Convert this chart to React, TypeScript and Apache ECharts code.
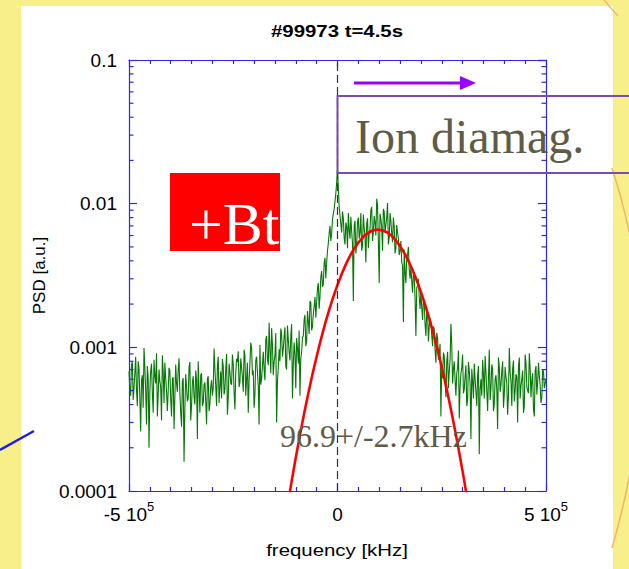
import React, { useEffect, useRef } from 'react';
import * as echarts from 'echarts';

const TITLE = '#99973 t=4.5s';
const X_NAME = 'frequency [kHz]';
const Y_NAME = 'PSD [a.u.]';
const X_MIN = -500000;
const X_MAX = 500000;
const X_INTERVAL = 500000;
const X_MINOR_SPLIT = 10;
const X_TICK_LABELS = ['-5 10^5', '0', '5 10^5'];
const Y_MIN = 1e-4;
const Y_MAX = 0.1;
const Y_TICK_LABELS = ['0.0001', '0.001', '0.01', '0.1'];
const Y_MINOR_TICKS = [
  2e-4, 3e-4, 4e-4, 5e-4, 6e-4, 7e-4, 8e-4, 9e-4,
  2e-3, 3e-3, 4e-3, 5e-3, 6e-3, 7e-3, 8e-3, 9e-3,
  2e-2, 3e-2, 4e-2, 5e-2, 6e-2, 7e-2, 8e-2, 9e-2,
];

// measured spectrum, sampled every 2 kHz from -500 kHz; stored as two interleaved
// sample sets: "even" samples at -500, -496, ... and "odd" samples at -498, -494, ...
const SPEC_F0_HZ = -500000;
const SPEC_DF_HZ = 2000;
// PSD, in units of 1e-4 a.u.
const psdEvenE4 = [
  6.8, 4.6, 7.9, 5.2, 8.6, 3.9, 7.1, 2.6, 6.4, 9.9, 5.0, 7.4, 2.0, 6.9, 4.8, 8.2, 5.6, 3.3, 7.0, 5.3, 8.8, 4.1, 6.2, 3.6,
  7.2, 4.4, 6.0, 2.7, 7.6, 4.9, 8.4, 3.5, 5.8, 1.6, 6.5, 4.2, 7.3, 3.1, 5.7, 4.5, 6.9, 2.3, 5.1, 6.4, 3.9, 5.5,
  4.2, 6.0, 3.6, 5.3, 4.6,
  9.8, 5.4, 7.5, 4.1, 6.8, 8.3, 4.7, 7.0, 3.4, 7.7, 5.6, 8.9, 4.9, 6.6, 7.9,
  5.3, 8.4, 6.2, 9.6, 4.6, 7.8, 5.9, 10.8, 6.4, 3.8, 8.1, 6.7, 2.9, 5.5, 7.4,
  7.0, 11.3, 8.2, 14.8, 6.6, 10.4, 7.9, 12.6, 5.8, 9.7,
  13.5, 8.6, 11.9, 7.4, 14.2, 9.3, 12.0, 4.4, 10.8, 5.2, 9.9, 13.1, 8.4, 11.7,
  15.6, 10.2, 17.9, 12.4, 20.5, 14.0, 19.3, 16.1,
  25.8, 18.6, 31.0, 26.4, 38.5, 30.2,
  47, 62.5, 55, 78, 92, 118, 175,
  96, 72, 88, 58, 74, 49, 66, 81, 53, 70, 45,
  75, 57, 86, 51, 68, 39, 79, 62, 90, 55,
  82, 60, 97, 28, 78, 47, 88, 71, 101, 58,
  76, 54, 69, 49, 63, 44,
  55, 37, 48, 28, 44, 35,
  36, 24, 31.5, 12, 27, 22.5,
  24, 15.5, 20.5, 12, 17.5, 14,
  15, 10.2, 13.4, 7.8, 11.6, 9.0,
  3.3, 6.1, 8.7, 4.5, 9.3, 6.8, 14.6, 5.6,
  8.0, 4.6, 7.2, 3.2, 6.6, 8.9, 5.1, 7.5, 4.3, 6.9, 2.3, 5.8,
  7.7, 4.9, 6.3, 1.8, 6.0, 8.2, 4.4, 6.7, 3.6, 9.6, 5.2, 7.0, 4.0, 6.4, 2.7, 7.3, 5.5, 8.0, 4.7, 6.2, 3.4, 9.9,
  5.8, 7.1, 4.2, 6.5, 3.0, 8.5, 5.4, 6.9, 3.9, 7.8, 5.0, 9.1, 4.5, 6.6, 3.3, 7.4, 5.7, 6.3, 4.1, 7.0, 5.2, 6.0,
];
const psdOddE4 = [
  5.1, 7.6, 4.3, 6.6, 5.0, 8.0, 4.4, 5.9, 3.8, 7.3, 2.9, 6.1, 4.9, 7.7, 3.5, 6.3, 9.1, 4.7, 5.8, 3.1, 6.7, 7.8, 4.9,
  5.0, 6.9, 3.3, 6.2, 4.5, 5.6, 7.0, 4.8, 2.8, 6.1, 3.7, 5.3, 4.4, 7.9, 3.9, 6.3, 4.0, 5.9, 8.0, 3.5, 6.6, 4.1,
  5.7, 2.9, 6.3, 4.0, 5.9,
  5.2, 7.1, 3.9, 8.6, 5.3, 4.4, 7.4, 5.1, 9.0, 4.4, 6.7, 5.5, 7.6, 3.7, 8.3,
  9.4, 5.7, 7.2, 4.9, 8.8, 6.1, 3.5, 7.7, 9.9, 6.9, 4.7, 8.6, 5.4, 10.4, 6.0,
  9.3, 5.9, 12.0, 7.5, 9.6, 13.6, 6.4, 8.8, 3.0, 7.2,
  8.0, 12.4, 9.8, 13.8, 7.0, 11.3, 8.1, 14.5, 7.6, 9.0, 11.6, 7.7, 4.6, 9.2,
  12.0, 16.8, 11.0, 15.2, 21.0, 13.1, 17.0, 22.4,
  20.5, 28.0, 22.5, 34.0, 27.5, 42.0,
  39, 53, 70, 62, 85, 104, 140,
  128, 82, 63, 79, 52, 69, 86, 57, 64, 21, 76,
  52, 80, 63, 47, 84, 58, 72, 49, 67, 95, 64,
  74, 108, 56, 85, 69, 92, 63, 80, 52, 86,
  62, 80, 45, 71, 57, 47,
  39, 15, 33, 42, 50, 30,
  29, 33, 22, 26, 30, 18.5,
  19, 22, 14.5, 18, 11, 16,
  12.2, 14.0, 9.5, 12.6, 8.2, 10.6,
  7.6, 9.2, 5.8, 7.9, 5.2, 8.2, 10.3, 7.1,
  5.9, 6.6, 9.5, 5.3, 7.2, 4.8, 6.3, 3.9, 7.9, 5.5, 7.1, 4.4,
  6.0, 3.9, 7.4, 5.1, 4.6, 6.5, 8.7, 5.0, 6.1, 4.3, 7.6, 3.6, 6.0, 5.1, 8.5, 4.9, 6.8, 3.8, 7.3, 5.6, 4.6, 6.7,
  3.9, 8.1, 5.0, 6.2, 7.4, 4.4, 6.0, 3.5, 8.9, 5.3, 4.8, 7.1, 5.9, 3.7, 6.9, 4.7, 7.8, 5.4, 4.5, 6.8, 5.6,
];

// Gaussian fit curve
const fitFreqKHz = [-120, -100, -80, -60, -40, -20, 0, 20, 40, 60, 80, 97, 120, 140, 160, 180, 200, 220, 240, 260, 280, 300, 315];
const fitPsd = [7.85e-5, 1.71e-4, 3.46e-4, 6.49e-4, 1.13e-3, 1.82e-3, 2.72e-3, 3.78e-3, 4.86e-3, 5.81e-3, 6.43e-3, 6.6e-3,
  6.28e-3, 5.55e-3, 4.55e-3, 3.45e-3, 2.43e-3, 1.59e-3, 9.64e-4, 5.42e-4, 2.82e-4, 1.37e-4, 7.5e-5];

const MARK_FREQ_HZ = 0;
const ANNOT_FIT = '96.9+/-2.7kHz';
const ANNOT_DIR = 'Ion diamag.';
const ANNOT_BT = '+Bt';

const AXIS_COLOR = '#2a2ae0';
const SANS = '"Liberation Sans", Arial, sans-serif';
const SERIF = '"Liberation Serif", "Times New Roman", serif';
const OLIVE = '#5e5b47';

function parseTick(s: string): number {
  const [m, e] = s.split(' 10^');
  return e !== undefined ? Number(m) * Math.pow(10, Number(e)) : Number(m);
}

export default function App() {
  const ref = useRef<HTMLDivElement>(null);
  useEffect(() => {
    if (!ref.current) return;
    const chart = echarts.init(ref.current, null, { renderer: 'svg' });
    const specData: number[][] = [];
    psdEvenE4.forEach((v, i) => {
      specData.push([SPEC_F0_HZ + 2 * i * SPEC_DF_HZ, v * 1e-4]);
      if (i < psdOddE4.length) specData.push([SPEC_F0_HZ + (2 * i + 1) * SPEC_DF_HZ, psdOddE4[i] * 1e-4]);
    });
    const fitData = fitFreqKHz.map((f, i) => [f * 1000, fitPsd[i]]);

    const xLabel = (value: number) => {
      const s = X_TICK_LABELS.find((t) => Math.abs(parseTick(t) - value) < 1);
      if (!s) return '';
      if (s.includes(' 10^')) {
        const [m, e] = s.split(' 10^');
        return `{m|${m} 10}{s|${e}}`;
      }
      return `{m|${s}}`;
    };
    const yLabel = (value: number) =>
      Y_TICK_LABELS.find((t) => Math.abs(Number(t) / value - 1) < 1e-6) || '';

    const xAxisBase = {
      type: 'value',
      min: X_MIN,
      max: X_MAX,
      interval: X_INTERVAL,
      axisLine: { show: true, onZero: false, lineStyle: { color: AXIS_COLOR, width: 1.2 } },
      axisTick: { show: true, inside: true, length: 7, lineStyle: { color: AXIS_COLOR, width: 1.2 } },
      minorTick: { show: true, splitNumber: X_MINOR_SPLIT, length: 4, lineStyle: { color: AXIS_COLOR, width: 1.2 } },
      splitLine: { show: false },
      minorSplitLine: { show: false },
    };
    const yAxisBase = {
      type: 'log',
      logBase: 10,
      min: Y_MIN,
      max: Y_MAX,
      axisLine: { show: true, onZero: false, lineStyle: { color: AXIS_COLOR, width: 1.2 } },
      axisTick: { show: true, inside: true, length: 8, lineStyle: { color: AXIS_COLOR, width: 1.2 } },
      splitLine: { show: false },
    };

    chart.setOption({
      animation: false,
      backgroundColor: 'transparent',
      grid: { left: 129, top: 60, width: 417, height: 431 },
      xAxis: [
        {
          ...xAxisBase,
          position: 'bottom',
          axisLabel: {
            show: true,
            margin: 9,
            formatter: xLabel,
            rich: {
              m: { fontFamily: SANS, fontSize: 19, color: '#000', lineHeight: 24, verticalAlign: 'bottom' },
              s: { fontFamily: SANS, fontSize: 13, color: '#000', lineHeight: 24, verticalAlign: 'top' },
            },
          },
        },
        { ...xAxisBase, position: 'top', axisLabel: { show: false } },
      ],
      yAxis: [
        {
          ...yAxisBase,
          position: 'left',
          name: Y_NAME,
          nameLocation: 'middle',
          nameRotate: 90,
          nameGap: 24,
          nameTextStyle: { fontFamily: SANS, fontSize: 17, color: '#000' },
          axisLabel: { show: true, margin: 12, formatter: yLabel, fontFamily: SANS, fontSize: 19, color: '#000' },
        },
        { ...yAxisBase, position: 'right', axisLabel: { show: false } },
      ],
      series: [
        {
          type: 'line',
          name: 'spectrum',
          data: specData,
          showSymbol: false,
          symbol: 'none',
          lineStyle: { color: '#067806', width: 1.1 },
          z: 3,
        },
        {
          type: 'line',
          name: 'fit',
          data: fitData,
          showSymbol: false,
          symbol: 'none',
          smooth: 0.35,
          lineStyle: { color: '#ff0000', width: 2.6 },
          z: 4,
        },
        {
          type: 'line',
          name: 'marker',
          data: [],
          z: 5,
          markLine: {
            silent: true,
            symbol: 'none',
            label: { show: false },
            lineStyle: { color: '#333', type: [8, 4], width: 1.2 },
            data: [{ xAxis: MARK_FREQ_HZ }],
          },
        },
        {
          type: 'custom',
          name: 'yminor',
          silent: true,
          z: 6,
          data: Y_MINOR_TICKS.map((v) => [0, v]),
          renderItem: (_params: any, api: any) => {
            const v = api.value(1);
            const l = api.coord([X_MIN, v]);
            const r = api.coord([X_MAX, v]);
            const st = { stroke: AXIS_COLOR, lineWidth: 1.2 };
            return {
              type: 'group',
              children: [
                { type: 'line', shape: { x1: l[0], y1: l[1], x2: l[0] + 4.5, y2: l[1] }, style: st },
                { type: 'line', shape: { x1: r[0] - 4.5, y1: r[1], x2: r[0], y2: r[1] }, style: st },
              ],
            };
          },
        },
      ],
      graphic: [
        {
          type: 'bezierCurve',
          silent: true,
          z: -1,
          shape: { x1: 612, y1: 168, cpx1: 652, cpy1: 290, cpx2: 652, cpy2: 410, x2: 612, y2: 548 },
          style: { stroke: '#efb36a', lineWidth: 1.5, fill: 'none' },
        },
        {
          type: 'line',
          silent: true,
          z: -1,
          shape: { x1: 604, y1: 0, x2: 618, y2: 16 },
          style: { stroke: '#efb36a', lineWidth: 1.2 },
        },
        {
          type: 'text',
          x: 337,
          y: 31,
          scaleX: 1.2,
          style: { text: TITLE, fontFamily: SANS, fontWeight: 'bold', fontSize: 17, fill: '#000', align: 'center', verticalAlign: 'middle' },
        },
        {
          type: 'text',
          x: 337,
          y: 550,
          scaleX: 1.2,
          style: { text: X_NAME, fontFamily: SANS, fontSize: 17, fill: '#000', align: 'center', verticalAlign: 'middle' },
        },
        {
          type: 'line',
          shape: { x1: 354, y1: 83, x2: 463, y2: 83 },
          style: { stroke: '#9900ff', lineWidth: 3 },
        },
        {
          type: 'polygon',
          shape: { points: [[460, 76], [476, 83], [460, 90]] },
          style: { fill: '#9900ff' },
        },
        {
          type: 'rect',
          shape: { x: 337.5, y: 96, width: 320, height: 77 },
          style: { fill: 'none', stroke: '#7a4cae', lineWidth: 2 },
          z: 10,
        },
        {
          type: 'text',
          x: 355,
          y: 136,
          z: 10,
          style: { text: ANNOT_DIR, fontFamily: SERIF, fontSize: 48, fill: OLIVE, align: 'left', verticalAlign: 'middle' },
        },
        {
          type: 'rect',
          shape: { x: 170, y: 173, width: 110, height: 78 },
          style: { fill: '#ff0000' },
          z: 10,
        },
        {
          type: 'text',
          x: 189,
          y: 224,
          z: 11,
          style: { text: ANNOT_BT, fontFamily: SERIF, fontSize: 60, fill: '#ffffff', align: 'left', verticalAlign: 'middle' },
        },
        {
          type: 'text',
          x: 280,
          y: 436,
          z: 10,
          style: { text: ANNOT_FIT, fontFamily: SERIF, fontSize: 32, fill: OLIVE, align: 'left', verticalAlign: 'middle' },
        },
        {
          type: 'line',
          shape: { x1: 0, y1: 450, x2: 34, y2: 431 },
          style: { stroke: '#1e1ee6', lineWidth: 2.5 },
          z: 10,
        },
      ],
    });
    return () => chart.dispose();
  }, []);

  return (
    <div style={{ position: 'fixed', left: 0, top: 0, width: 629, height: 569, background: '#f8ef8a', overflow: 'hidden' }}>
      <div style={{ position: 'absolute', left: 21, top: 6, width: 592, height: 580, background: '#ffffff' }} />
      <div ref={ref} style={{ position: 'absolute', left: 0, top: 0, width: 629, height: 569 }} />
    </div>
  );
}
